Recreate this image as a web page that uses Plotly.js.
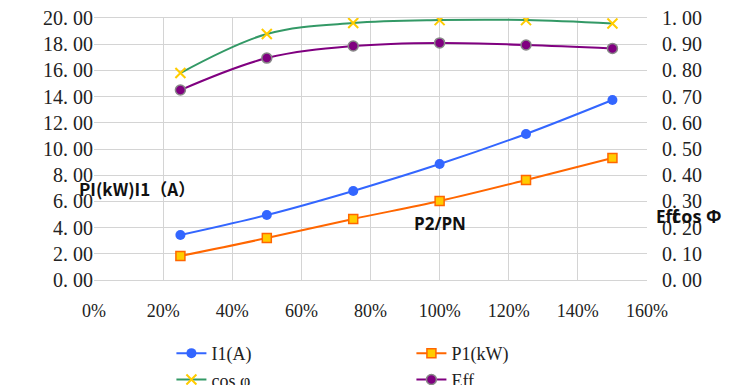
<!DOCTYPE html>
<html><head><meta charset="utf-8">
<script src="https://cdn.plot.ly/plotly-3.0.1.min.js"></script>
<style>html,body{margin:0;padding:0;background:#fff;}#chart{width:734px;height:385px;}</style>
</head><body><div id="chart"></div>
<script>
const load = [0.25, 0.50, 0.75, 1.00, 1.25, 1.50];
const I1 = [3.44, 4.96, 6.80, 8.85, 11.15, 13.74];
const P1 = [1.83, 3.20, 4.66, 6.03, 7.63, 9.31];
const cosPhi = [0.790, 0.939, 0.981, 0.992, 0.992, 0.979];
const Eff = [0.725, 0.847, 0.893, 0.905, 0.897, 0.884];
const leftTicks = [0,2,4,6,8,10,12,14,16,18,20];
const rightTicks = [0,0.1,0.2,0.3,0.4,0.5,0.6,0.7,0.8,0.9,1.0];
const xTicks = [0,0.2,0.4,0.6,0.8,1.0,1.2,1.4,1.6];

const fmt = v => v.toFixed(2).replace('.', '. ');
const serif = "Liberation Serif, DejaVu Serif, serif";
const sans = "Open Sans, Noto Sans, sans-serif";
const cjk = "Noto Sans CJK SC, sans-serif";

const traces = [
  {x: load, y: I1, name: 'I1(A)', type: 'scatter', mode: 'lines+markers',
   line: {color: '#3366ff', width: 2, shape: 'spline'},
   marker: {symbol: 'circle', size: 10, color: '#3366ff'}},
  {x: load, y: P1, name: 'P1(kW)', type: 'scatter', mode: 'lines+markers',
   line: {color: '#ff6600', width: 2, shape: 'spline'},
   marker: {symbol: 'square', size: 9, color: '#ffcc00', line: {color: '#ff6600', width: 1.5}}},
  {x: load, y: cosPhi, name: 'cos φ', type: 'scatter', mode: 'lines+markers', yaxis: 'y2',
   line: {color: '#339966', width: 2, shape: 'spline'},
   marker: {symbol: 'x-thin', size: 10, color: '#ffcc00', line: {color: '#ffcc00', width: 2}}},
  {x: load, y: Eff, name: 'Eff', type: 'scatter', mode: 'lines+markers', yaxis: 'y2',
   line: {color: '#800080', width: 2, shape: 'spline'},
   marker: {symbol: 'circle', size: 10, color: '#800080', line: {color: '#888888', width: 1.5}}}
];

const layout = {
  width: 734, height: 385,
  margin: {l: 94, r: 87, t: 18, b: 105, autoexpand: false},
  paper_bgcolor: '#fff', plot_bgcolor: '#fff',
  showlegend: true,
  legend: {orientation: 'h', x: 0.14, y: 0.13, xref: 'paper', yref: 'container', xanchor: 'left', yanchor: 'top',
    font: {family: serif, size: 18, color: '#222'}, entrywidth: 195, entrywidthmode: 'pixels',
    tracegroupgap: 0},
  xaxis: {range: [0, 1.6], tickvals: xTicks, ticktext: xTicks.map(v => Math.round(v*100) + '%'),
    showgrid: true, gridcolor: '#d4d4d4', gridwidth: 1, zeroline: false,
    showline: true, linecolor: '#d4d4d4', mirror: true, ticks: '', ticklabelstandoff: 14,
    tickfont: {family: serif, size: 18, color: '#222'}},
  yaxis: {range: [0, 20], tickvals: leftTicks, ticktext: leftTicks.map(fmt),
    showgrid: true, gridcolor: '#d4d4d4', zeroline: false, showline: false, ticks: '',
    tickfont: {family: serif, size: 20, color: '#222'}},
  yaxis2: {range: [0, 1], overlaying: 'y', side: 'right', tickvals: rightTicks, ticktext: rightTicks.map(fmt),
    showgrid: false, zeroline: false, showline: false, ticks: '', ticklabelstandoff: 14,
    tickfont: {family: serif, size: 20, color: '#222'}},
  annotations: [
    {text: '<b>PI(kW)I1（A）</b>', xref: 'paper', yref: 'paper', x: -0.03, y: 0.295, showarrow: false,
     xanchor: 'left', font: {family: cjk, size: 17, color: '#111'}},
    {text: '<b>P2/PN</b>', xref: 'paper', yref: 'paper', x: 0.625, y: 0.165, showarrow: false,
     xanchor: 'center', font: {family: sans, size: 17, color: '#111'}},
    {text: '<b>Eff</b>', xref: 'paper', yref: 'paper', x: 1.012, y: 0.19, showarrow: false,
     xanchor: 'left', font: {family: sans, size: 17, color: '#111'}},
    {text: '<b>cos Φ</b>', xref: 'paper', yref: 'paper', x: 1.042, y: 0.19, showarrow: false,
     xanchor: 'left', font: {family: sans, size: 18, color: '#111'}}
  ]
};

Plotly.newPlot('chart', traces, layout, {displayModeBar: false, staticPlot: true});
</script></body></html>
